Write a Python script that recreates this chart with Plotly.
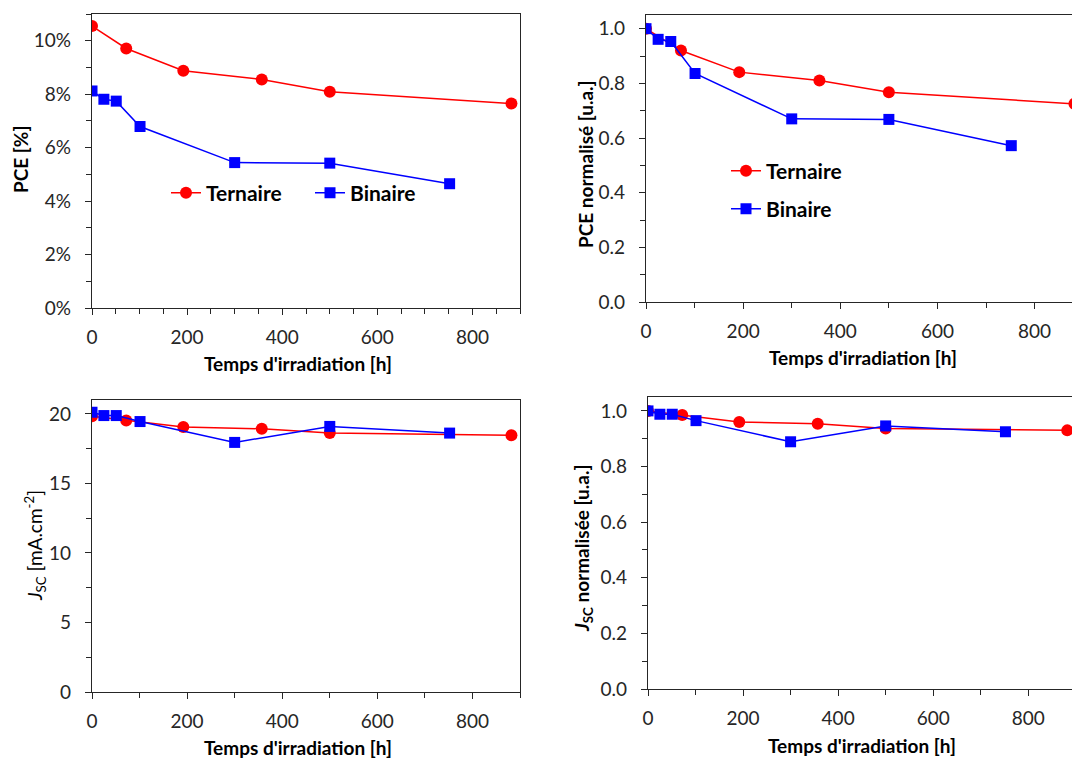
import plotly.graph_objects as go

# ---------------- data ----------------
t_ternaire = [0, 72, 192, 357, 500, 882]
t_binaire = [0, 25, 51, 101, 300, 500, 752]

pce_ternaire = [10.55, 9.71, 8.88, 8.55, 8.09, 7.65]          # %
pce_binaire = [8.12, 7.81, 7.74, 6.79, 5.44, 5.42, 4.65]        # %

pce_norm_ternaire = [1.0, 0.92, 0.841, 0.81, 0.767, 0.725]
pce_norm_binaire = [1.0, 0.961, 0.953, 0.836, 0.67, 0.668, 0.572]

jsc_ternaire = [19.83, 19.52, 19.05, 18.93, 18.63, 18.46]       # mA/cm2
jsc_binaire = [20.12, 19.88, 19.88, 19.45, 17.95, 19.1, 18.62]

jsc_norm_ternaire = [1.0, 0.985, 0.96, 0.954, 0.937, 0.930]
jsc_norm_binaire = [1.0, 0.988, 0.988, 0.965, 0.889, 0.946, 0.925]

name_t = "Ternaire"
name_b = "Binaire"
x_title = "Temps d'irradiation [h]"

# ---------------- style ----------------
W, H = 1072, 760
FONT = "Lato"
RED = "#FF0000"
BLUE = "#0000FF"
AX = "#262626"
TICKCOL = "#262626"


def px(x):
    return x / W


def py(y):
    return 1 - y / H


fig = go.Figure()


def add_pair(xa, ya, yt, yb, leg_t=None, leg_b=None):
    fig.add_trace(go.Scatter(
        x=t_ternaire, y=yt, name=name_t, mode="lines+markers",
        line=dict(color=RED, width=1.5),
        marker=dict(symbol="circle", size=12, color=RED),
        xaxis=xa, yaxis=ya,
        showlegend=leg_t is not None, legend=leg_t or "legend"))
    fig.add_trace(go.Scatter(
        x=t_binaire, y=yb, name=name_b, mode="lines+markers",
        line=dict(color=BLUE, width=1.5),
        marker=dict(symbol="square", size=11, color=BLUE),
        xaxis=xa, yaxis=ya,
        showlegend=leg_b is not None, legend=leg_b or "legend"))


add_pair("x", "y", pce_ternaire, pce_binaire, "legend", "legend3")
add_pair("x2", "y2", pce_norm_ternaire, pce_norm_binaire, "legend2", "legend4")
add_pair("x3", "y3", jsc_ternaire, jsc_binaire)
add_pair("x4", "y4", jsc_norm_ternaire, jsc_norm_binaire)

tickfont = dict(family=FONT, size=19, color=TICKCOL)


def xaxis(domain, rng, anchor, minor):
    return dict(domain=domain, range=rng, anchor=anchor, dtick=200, tick0=0,
                showline=True, linecolor=AX, linewidth=1.3, mirror=True,
                ticks="outside", ticklen=6, tickwidth=1.3, tickcolor=AX,
                minor=dict(dtick=minor, ticks="outside", ticklen=5, tickwidth=1.3, tickcolor=AX),
                showgrid=False, zeroline=False, tickfont=tickfont, ticklabelstandoff=6,
                automargin=False)


def yaxis(domain, rng, anchor, dtick, minor, mirror, fmt=None, suffix=None):
    d = dict(domain=domain, range=rng, anchor=anchor, dtick=dtick, tick0=0,
             showline=True, linecolor=AX, linewidth=1.3, mirror=mirror,
             ticks="outside", ticklen=6, tickwidth=1.3, tickcolor=AX,
             minor=dict(dtick=minor, ticks="outside", ticklen=5, tickwidth=1.3, tickcolor=AX),
             showgrid=False, zeroline=False, tickfont=tickfont, ticklabelstandoff=10,
             automargin=False)
    if fmt:
        d["tickformat"] = fmt
    if suffix:
        d["ticksuffix"] = suffix
    return d


fig.update_layout(
    width=W, height=H,
    margin=dict(l=0, r=0, t=0, b=0, pad=0),
    paper_bgcolor="white", plot_bgcolor="white",
    font=dict(family=FONT, size=19, color="black"),
    xaxis=xaxis([px(92), px(520)], [0, 900], "y", 50),
    yaxis=yaxis([py(308), py(14)], [0, 11], "x", 2, 1, True, suffix="%"),
    xaxis2=xaxis([px(646), 1.0], [0, 877], "y2", 100),
    yaxis2=yaxis([py(302), py(15)], [0, 1.05], "x2", 0.2, 0.1, False, fmt=".1f"),
    xaxis3=xaxis([px(92), px(520)], [0, 900], "y3", 100),
    yaxis3=yaxis([py(692), py(400)], [0, 21], "x3", 5, 2.5, True),
    xaxis4=xaxis([px(648), 1.0], [0, 892], "y4", 100),
    yaxis4=yaxis([py(689), py(397)], [0, 1.05], "x4", 0.2, 0.1, False, fmt=".1f"),
)

legfont = dict(family=FONT, size=21, color="black", weight="bold")
common_leg = dict(font=legfont, bgcolor="rgba(0,0,0,0)", borderwidth=0,
                  xanchor="left", yanchor="middle", itemwidth=30)
fig.update_layout(
    legend=dict(x=px(166), y=py(193), **common_leg),
    legend3=dict(x=px(310), y=py(193), **common_leg),
    legend2=dict(x=px(726), y=py(171), **common_leg),
    legend4=dict(x=px(726), y=py(209), **common_leg),
)

# axis titles as annotations
titlefont = dict(family=FONT, size=19, color="black", weight="bold")
ann = [
    dict(text=x_title, x=px(298), y=py(364)),
    dict(text=x_title, x=px(863), y=py(357)),
    dict(text=x_title, x=px(298), y=py(747)),
    dict(text=x_title, x=px(862), y=py(745)),
    dict(text="PCE [%]", x=px(20), y=py(160), textangle=-90),
    dict(text="PCE normalisé [u.a.]", x=px(585), y=py(164), textangle=-90),
    dict(text="<i>J</i><sub>SC</sub> [mA.cm<sup>-2</sup>]", x=px(35), y=py(546),
         textangle=-90, font=dict(family=FONT, size=19, color="black")),
    dict(text="<i>J</i><sub>SC</sub> normalisée [u.a.]", x=px(583), y=py(549), textangle=-90),
]
for a in ann:
    a.setdefault("font", titlefont)
    fig.add_annotation(xref="paper", yref="paper", showarrow=False,
                       xanchor="center", yanchor="middle", **a)

fig.write_html(
    "out.html",
    config={"displayModeBar": False},
    post_script="document.body.style.margin='0';document.body.style.overflow='hidden';",
)
